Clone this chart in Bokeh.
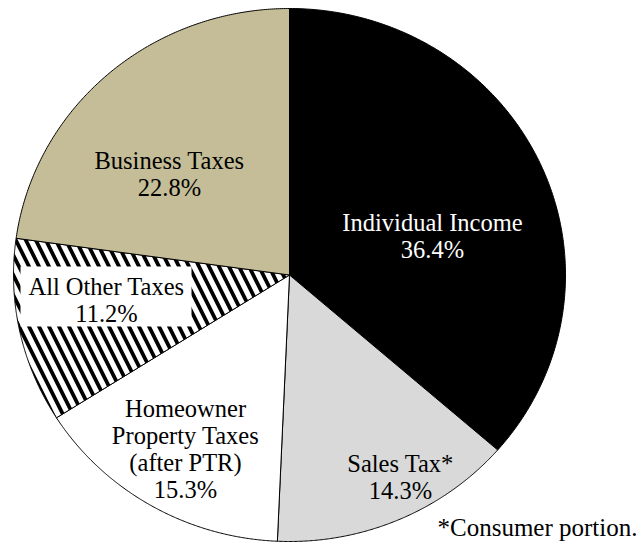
import numpy as np
from bokeh.plotting import figure
from bokeh.models import Range1d, ColumnDataSource
from bokeh.embed import file_html
from bokeh.resources import INLINE
from bokeh.core.properties import value

# ---- data ----
categories = ["Individual Income", "Sales Tax*", "Homeowner Property Taxes (after PTR)",
              "All Other Taxes", "Business Taxes"]
label_text = ["Individual Income", "Sales Tax*", "Homeowner\nProperty Taxes\n(after PTR)",
              "All Other Taxes", "Business Taxes"]
shares = [36.4, 14.3, 15.3, 11.2, 22.8]
footnote = "*Consumer portion."

# ---- styles / layout ----
fill_colors = ["#000000", "#d9d9d9", "#ffffff", "#ffffff", "#c4bd97"]
hatches = [" ", " ", " ", "\\", " "]
text_colors = ["#ffffff", "#000000", "#000000", "#000000", "#000000"]
label_pos_x = [432, 400, 185, 106, 169]
label_pos_y = [235.5, 476, 448, 299, 173.5]
CX, CY, RX, RY = 289.0, 274.5, 276.0, 266.5
FONT = "'Liberation Serif', 'Times New Roman', serif"

W, H = 641, 544
p = figure(width=W, height=H, output_backend="svg", toolbar_location=None,
           x_range=Range1d(0, W), y_range=Range1d(H, 0),
           min_border=0, background_fill_color="white", border_fill_color="white")
p.axis.visible = False
p.grid.visible = False
p.outline_line_color = None

# slices from the shares
xs, ys = [], []
start = 90.0
for s in shares:
    end = start - s * 3.6
    t = np.radians(np.linspace(start, end, 200))
    xs.append(np.concatenate([[CX], CX + RX * np.cos(t)]).tolist())
    ys.append(np.concatenate([[CY], CY - RY * np.sin(t)]).tolist())
    start = end

src = ColumnDataSource(dict(xs=xs, ys=ys, fill=fill_colors, hatch=hatches, cat=categories))
p.patches("xs", "ys", source=src, fill_color="fill", line_color="black", line_width=1,
          hatch_pattern="hatch", hatch_color="black", hatch_scale=20, hatch_weight=3.8)

# white box behind the "All Other Taxes" label
p.quad(left=[20], right=[191], top=[266], bottom=[326], fill_color="white", line_color=None)

labels = [f"{t}\n{s:.1f}%" for t, s in zip(label_text, shares)]
lsrc = ColumnDataSource(dict(x=label_pos_x, y=label_pos_y, text=labels, color=text_colors))
p.text("x", "y", text="text", source=lsrc, text_color="color",
       text_font=value(FONT), text_font_size="24.5px", text_align="center",
       text_baseline="middle", text_line_height=1.0)

p.text(x=[637], y=[527], text=[footnote], text_font=value(FONT), text_font_size="25px",
       text_align="right", text_baseline="middle", text_color="black")

open("out.html", "w").write(file_html(p, INLINE))
